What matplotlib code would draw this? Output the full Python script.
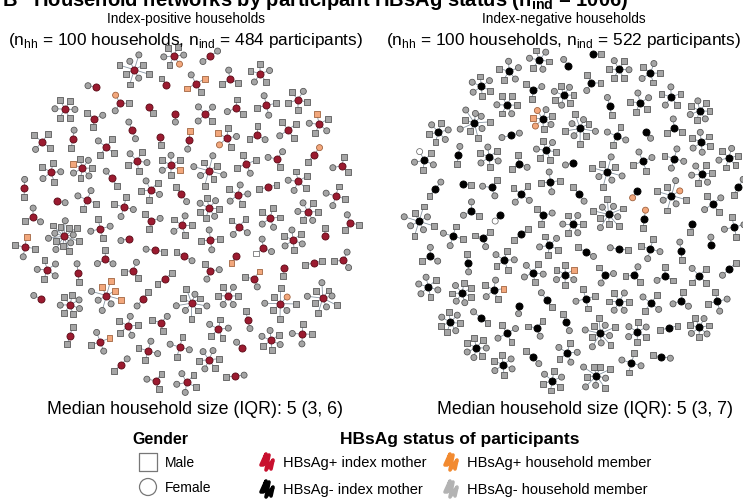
import numpy as np
import matplotlib
matplotlib.use("Agg")
import matplotlib.pyplot as plt
from matplotlib.collections import LineCollection

plt.rcParams['font.family'] = ['Liberation Sans', 'DejaVu Sans']
plt.rcParams['mathtext.fontset'] = 'custom'
plt.rcParams['mathtext.rm'] = 'Liberation Sans'
plt.rcParams['mathtext.bf'] = 'Liberation Sans:bold'

# household members around each index mother
# m/f = HBsAg- male/female, M/F = HBsAg+ male/female, u/w = untested male/female
pos_households = [
    "mmfmf", "fm", "mmf", "mfmfmfm", "mf", "fmfm", "mfmmf", "mf", "mmffmfmf", "fmf",
    "f", "mmff", "fmMmfm", "mm", "ffmm", "mfmff", "M", "mfm", "fmfmm", "Mf",
    "mfmmffmmf", "fuf", "mfmf", "fm", "mmfmff", "fm", "mmffm", "mfmm", "ffm", "m",
    "FMmfm", "mMf", "MMMMffff", "fmmf", "mm", "mmfm", "f", "fmfmfm", "mfm", "ff",
    "mmfmfmmfmffmmf", "fmmfm", "mfff", "m", "mmf", "Mmfmfmf", "mf", "fmf", "mfmffm", "m",
    "mfmf", "fmm", "mfmfm", "fm", "Fmfmmfmm", "f", "mMfM", "ffmmm", "mm", "mfm",
    "m", "mmfm", "fmmf", "mfmmf", "fFm", "mffmmf", "f", "fm", "ffmmfmm", "mmf",
    "fmfm", "mF", "fmffm", "m", "mmff", "Mfmf", "fmf", "mmffmf", "mf", "f",
    "fmmff", "ffm", "fmfmmfmfm", "mfmm", "mf", "ff", "mmfmf", "fmm", "mfmmfm", "fm",
    "mfm", "fmMm", "mmffmmfm", "f", "Mmfmf", "mmf", "mffm", "Fmfmmf", "mm", "mmfmm",
]

neg_households = [
    "mfmfmf", "fm", "mmf", "mmfmfmfmmf", "mf", "fmfm", "fmmfm", "mf", "fmfmmfmf", "fmf",
    "f", "mmff", "mMfmfm", "mm", "ffmm", "mmfmfm", "F", "mfm", "fmfmf", "Fm",
    "mfmmfmfmf", "fmm", "mfmm", "w", "mmfmff", "fm", "mfmmf", "fmmf", "mfm", "mf",
    "FMFfmfm", "fmf", "mfFmfmfm", "mfmf", "ff", "fmfm", "f", "fmfmfm", "mmf", "mf",
    "fmfmffmfmm", "Mmfmf", "mmfm", "m", "ffm", "fmfmmfm", "fm", "mfm", "mfmfmm", "f",
    "fmff", "fmf", "fmfmmf", "mf", "fmfmmfmff", "m", "mfmf", "mmffm", "mm", "mfm",
    "f", "fmfm", "mffm", "fmfmf", "fmm", "ffmmfm", "mf", "fm", "mmffmfm", "mmf",
    "fmmf", "mf", "mfmfmm", "f", "mfmf", "ffmmf", "fmf", "mfmmff", "fm", "mf",
    "wmfmf", "mmfmffmfm", "fmfm", "mf", "mfmmfmf", "fmfmmf", "mfmmf", "mfmfmf", "fm", "m",
    "fmmfmf", "mmfmfm", "ffmmfmfm", "fmfmmf", "fmfmff", "mfmffmm", "mmfmf", "fmfmfmm", "mfmfmm", "mfmfmfm",
]

idx_color = {"pos": "#9b1b30", "neg": "#000000"}
idx_edge = {"pos": "#5a0a16", "neg": "#000000"}
member_face = {"m": "#a5a5a5", "f": "#a5a5a5", "M": "#f2a77c", "F": "#f2a77c",
               "u": "#ffffff", "w": "#ffffff"}
member_edge = {"m": "#4f4f4f", "f": "#4f4f4f", "M": "#9a5a35", "F": "#9a5a35",
               "u": "#6a6a6a", "w": "#6a6a6a"}
GOLDEN = np.pi * (3 - np.sqrt(5))


def ring_radius(k):
    if k == 1:
        return 8.0
    if k <= 3:
        return 9.0
    if k <= 7:
        return 10.0
    return 15.5


def pack(reach):
    """greedy start: each star goes to the free spot nearest the centre"""
    g = np.arange(-240, 241, 2.0)
    gx, gy = np.meshgrid(g, g)
    cand = np.column_stack([gx.ravel(), gy.ravel()])
    cand = cand[np.argsort(np.hypot(cand[:, 0], cand[:, 1]), kind="stable")]
    centers = []
    for i, r in enumerate(reach):
        if not centers:
            centers.append(np.array([0.0, 0.0]))
            continue
        c = np.array(centers)
        dist = np.hypot(cand[:, None, 0] - c[None, :, 0], cand[:, None, 1] - c[None, :, 1])
        ok = np.all(dist >= reach[None, :i] + r + 2, axis=1)
        centers.append(cand[np.argmax(ok)])
    return np.array(centers, dtype=float)


def relax(p, reach, R, fill=0.8, n_iter=1200):
    """push stars apart until they sit evenly inside a disk of radius R"""
    n = len(reach)
    a, b, c = n, 2 * reach.sum(), (reach ** 2).sum() - fill * R ** 2
    half = (-b + np.sqrt(b * b - 4 * a * c)) / (2 * a)
    sep = reach[:, None] + reach[None, :] + 2 * half
    lim = R - reach
    for _ in range(n_iter):
        dx = p[:, None, :] - p[None, :, :]
        d = np.hypot(dx[..., 0], dx[..., 1])
        np.fill_diagonal(d, np.inf)
        ov = np.clip(sep - d, 0, None)
        np.fill_diagonal(ov, 0)
        unit = dx / d[..., None]
        p = p + 0.4 * (unit * ov[..., None]).sum(axis=1)
        r = np.hypot(p[:, 0], p[:, 1])
        over = r > lim
        p[over] *= (lim[over] / r[over])[:, None]
    return p


def draw_panel(ax, households, status, cx, cy, R):
    reach = np.array([ring_radius(len(h)) + 3.5 for h in households])
    centers = pack(reach)
    ext = np.hypot(centers[:, 0], centers[:, 1]) + reach
    centers = centers * (R / ext.max())
    centers = relax(centers, reach, R)
    segs = []
    pts = {"s": [], "o": []}
    for i, h in enumerate(households):
        x0, y0 = cx + centers[i, 0], cy + centers[i, 1]
        k = len(h)
        off = i * GOLDEN * 3.0
        for j, code in enumerate(h):
            a = off + 2 * np.pi * j / k
            d = ring_radius(k)
            if k >= 8 and j % 2 == 0:
                d = 9.5
            x1, y1 = x0 + d * np.cos(a), y0 + d * np.sin(a)
            segs.append([(x0, y0), (x1, y1)])
            mk = "s" if code in "mMu" else "o"
            pts[mk].append((x1, y1, member_face[code], member_edge[code]))
    ax.add_collection(LineCollection(segs, colors="#8795a2", linewidths=0.6, zorder=1))
    for mk, sz in (("s", 18), ("o", 19)):
        if pts[mk]:
            xs, ys, fc, ec = zip(*pts[mk])
            ax.scatter(xs, ys, s=sz, marker=mk, c=list(fc), edgecolors=list(ec),
                       linewidths=0.55, zorder=2)
    ax.scatter(cx + centers[:, 0], cy + centers[:, 1], s=26, marker="o",
               c=idx_color[status], edgecolors=idx_edge[status], linewidths=0.6, zorder=3)


def summary(households):
    sizes = np.array([len(h) + 1 for h in households])
    q1, med, q3 = np.percentile(sizes, [25, 50, 75])
    return len(households), int(sizes.sum()), int(med), int(q1), int(q3)


def scribble(ax, x, y, color):
    zz = np.array([(-7, 3), (-2, -8), (-5, 3), (1, -7), (-2, 8), (5, -2), (3, 7)])
    ax.plot(x + zz[:, 0], y + zz[:, 1], color=color, lw=2.6, solid_capstyle="round",
            solid_joinstyle="round")


fig = plt.figure(figsize=(7.43, 5.02), dpi=100)
ax = fig.add_axes([0, 0, 1, 1])
ax.set_xlim(0, 743)
ax.set_ylim(502, 0)
ax.axis("off")

draw_panel(ax, pos_households, "pos", 186, 220, 177)
draw_panel(ax, neg_households, "neg", 577, 220, 177)

n_pos = summary(pos_households)
n_neg = summary(neg_households)

ax.text(2, 6, "B   Household networks by participant HBsAg status (n$_\\mathbf{ind}$ = %d)"
        % (n_pos[1] + n_neg[1]), fontsize=14.5, fontweight="bold", va="baseline", ha="left")

for (x, title, info) in ((186, "Index-positive households", n_pos),
                         (564, "Index-negative households", n_neg)):
    ax.text(x, 23, title, fontsize=9.8, ha="center", va="baseline")
    ax.text(x, 45, "(n$_\\mathregular{hh}$ = %d households, n$_\\mathregular{ind}$ = %d participants)"
            % (info[0], info[1]), fontsize=12.4, ha="center", va="baseline")

ax.text(47, 414, "Median household size (IQR): %d (%d, %d)" % n_pos[2:], fontsize=12.8,
        ha="left", va="baseline")
ax.text(437, 414, "Median household size (IQR): %d (%d, %d)" % n_neg[2:], fontsize=12.8,
        ha="left", va="baseline")

# legend
ax.text(160, 444, "Gender", fontsize=11.5, fontweight="bold", ha="center", va="baseline")
ax.scatter([148], [463], s=150, marker="s", facecolors="none", edgecolors="#777777", linewidths=0.9)
ax.scatter([148], [488], s=150, marker="o", facecolors="none", edgecolors="#777777", linewidths=0.9)
ax.text(165, 467, "Male", fontsize=10, va="baseline")
ax.text(165, 492, "Female", fontsize=10, va="baseline")

ax.text(460, 444, "HBsAg status of participants", fontsize=12.5, fontweight="bold",
        ha="center", va="baseline")
legend_keys = [
    (268, 463, "#c8102e", "HBsAg+ index mother"),
    (452, 463, "#f28a30", "HBsAg+ household member"),
    (268, 490, "#000000", "HBsAg- index mother"),
    (452, 490, "#b3b3b3", "HBsAg- household member"),
]
for x, y, col, lab in legend_keys:
    scribble(ax, x, y, col)
    ax.text(x + 15, y + 4, lab, fontsize=10.5, va="baseline")

fig.savefig("out.png", dpi=100)
